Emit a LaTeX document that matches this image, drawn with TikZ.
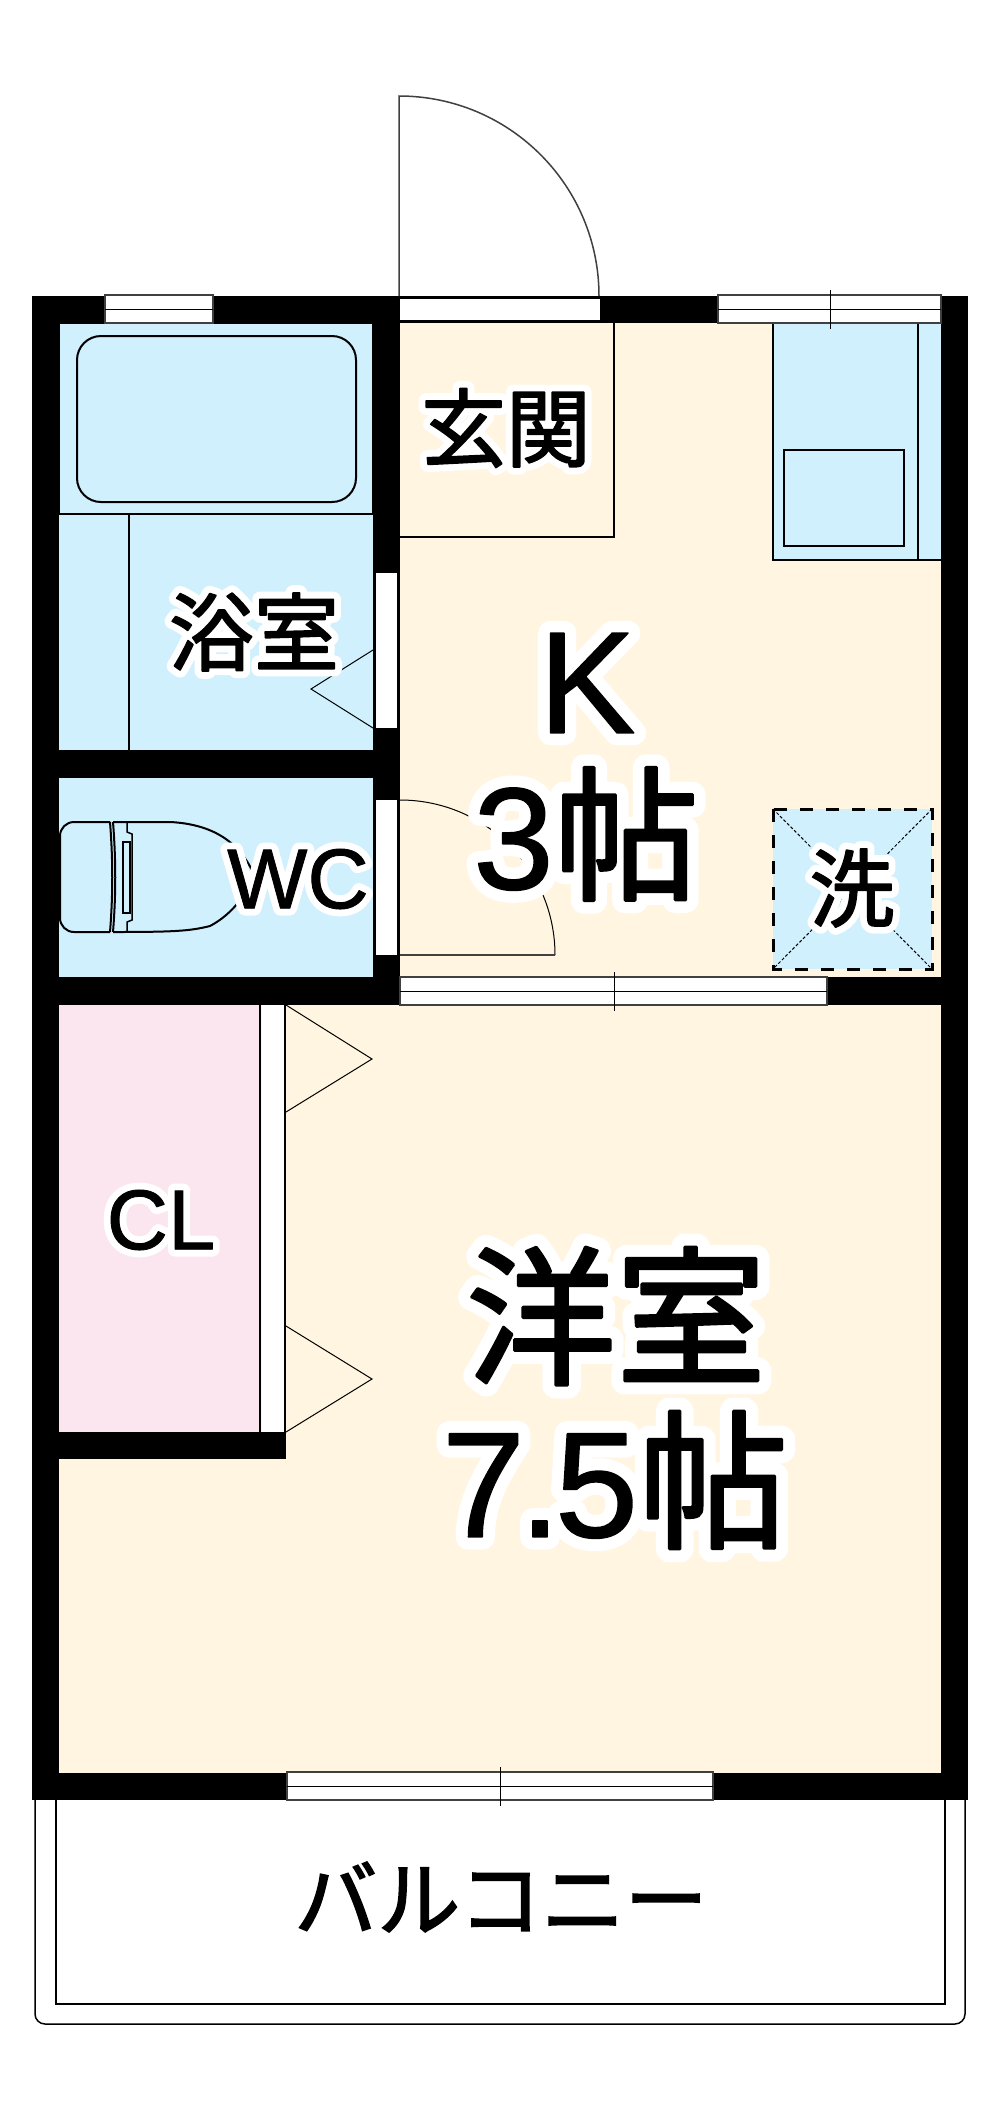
\documentclass[tikz,border=0pt]{standalone}
\usepackage{fontspec}
\setmainfont[FakeBold=1.0]{Liberation Sans}
\newfontfamily\jpfont[FakeBold=2.0]{Noto Sans CJK JP}
\newfontfamily\jphalo[FakeBold=18]{Noto Sans CJK JP}
\newfontfamily\lathalo[FakeBold=17]{Liberation Sans}
% white rim under a label: first the rim, then the label
\newcommand{\halo}[2]{\special{pdf:code 1 j}\rlap{\textcolor{white}{#1}}#2}
\definecolor{FloorBeige}{HTML}{FFF5E0}
\definecolor{WetBlue}{HTML}{D0F0FE}
\definecolor{ClosetPink}{HTML}{FBE6F0}
\definecolor{WinGray}{HTML}{404040}
\tikzset{
  fixture/.style={draw=black,line width=1.5pt},
  thinline/.style={draw=black,line width=1pt},
  winline/.style={draw=WinGray,line width=1.5pt},
  hugetext/.style={inner sep=0pt,font=\fontsize{150}{150}\selectfont},
  bigtext/.style={inner sep=0pt,font=\fontsize{145}{145}\selectfont},
  smalltext/.style={inner sep=0pt,font=\fontsize{85}{85}\selectfont}
}

\begin{document}
\begin{tikzpicture}[x=1pt,y=-1pt]
    \useasboundingbox (0,0) rectangle (1000,2110);

%   balcony
    \draw[fixture,rounded corners=10pt] (35,1795) -- (35,2024) -- (965,2024) -- (965,1795);
    \draw[fixture,line width=2pt] (56,1795) -- (56,2004) -- (945,2004) -- (945,1795);

%   walls and floors
    \fill[black] (32,296) rectangle (968,1800);
    \fill[FloorBeige] (400,323) rectangle (941,977);
    \fill[FloorBeige] (59,1005) rectangle (941,1773);
    \fill[WetBlue] (60,324) rectangle (372,514);
    \fill[WetBlue] (59,514) rectangle (373,750);
    \fill[WetBlue] (59,778) rectangle (373,977);
    \fill[ClosetPink] (59,1005) rectangle (260,1432);
    \fill[black] (59,1432) rectangle (286,1459);
    \fill[white] (262,1005) rectangle (284,1432);
    \draw[fixture,line width=2.5pt] (260,1005) -- (260,1432);
    \draw[fixture,line width=2.5pt] (285,1005) -- (285,1432);

%   door gaps
    \fill[white] (400,299) rectangle (600,320);
    \fill[white] (376,573) rectangle (397,728);
    \fill[white] (376,800) rectangle (397,955);

%   entrance door
    \draw[winline] (399,296) -- (399,96) .. controls (509.5,96) and (599,185.5) .. (599,296);
    \draw[fixture] (400,537) -- (614,537) -- (614,323);

%   sliding doors
    \draw[thinline] (373,650) -- (311,689) -- (373,728);
    \draw[thinline] (286,1005) -- (372,1059) -- (286,1112);
    \draw[thinline] (286,1326) -- (372,1379) -- (286,1432);

%   wc door
    \draw[thinline] (400,800) .. controls (485.6,800) and (555,869.4) .. (555,955);
    \draw[winline] (400,955) -- (555,955);

%   bath
    \draw[fixture,line width=2pt,rounded corners=24pt] (77,336) rectangle (356,502);
    \draw[fixture,line width=2pt] (59,514) -- (373,514);
    \draw[fixture] (129,514) -- (129,750);

%   toilet
    \draw[fixture,line width=2pt,rounded corners=14pt] (110,822) -- (60,822) -- (60,932) -- (110,932);
    \draw[fixture,line width=2pt] (110,822) .. controls (113,860) and (113,895) .. (110,932);
    \draw[fixture,line width=2pt] (113,822) .. controls (116,860) and (116,895) .. (113,932);
    \draw[fixture,line width=2pt] (113,822) -- (170,822) .. controls (210,824) and (240,840) .. (255,877)
        .. controls (240,905) and (225,918) .. (210,926) .. controls (190,931) and (175,932) .. (113,932);
    \draw[fixture] (127,822) -- (127,832) -- (132,834) -- (132,920) -- (127,922) -- (127,932);
    \draw[fixture] (123,842) rectangle (130,913);

%   kitchen
    \fill[WetBlue] (773,323) rectangle (941,560);
    \draw[fixture,line width=2pt] (773,323) -- (773,560) -- (941,560);
    \draw[fixture,line width=2pt] (918,323) -- (918,560);
    \draw[fixture] (784,450) rectangle (904,546);

%   washing machine pan
    \fill[WetBlue] (773,809) rectangle (932,969);
    \draw[thinline,densely dashed] (773,809) -- (932,969);
    \draw[thinline,densely dashed] (932,809) -- (773,969);
    \draw[black,line width=3pt,dash pattern=on 13pt off 13pt] (773,809) rectangle (932,969);

%   windows
    \foreach \xa/\xb/\ya/\xt in {105/213/295/0,718/941/295/830,400/827/977/614,287/713/1772/500} {
        \fill[white] (\xa,\ya) rectangle (\xb,\ya+28);
        \draw[winline] (\xa,\ya) rectangle (\xb,\ya+28);
        \draw[thinline] (\xa,\ya+14) -- (\xb,\ya+14);
        \ifnum\xt>0
            \draw[thinline] (\xt,\ya-5) -- (\xt,\ya+34);
        \fi
    }

%   room names
    \node[smalltext] (genkan) at (506,428) {\halo{\jphalo 玄関}{\jpfont 玄関}};
    \node[bigtext] (kitchen) at (587,683) {\halo{\lathalo K}{K}};
    \node[bigtext] (kitchensize) at (586,834) {\halo{\lathalo 3\jphalo 帖}{3\jpfont 帖}};
    \node[smalltext] (bath) at (254,632) {\halo{\jphalo 浴室}{\jpfont 浴室}};
    \node[smalltext] (wc) at (298,879) {\halo{\lathalo WC}{WC}};
    \node[smalltext] (washer) at (852,888) {\halo{\jphalo 洗}{\jpfont 洗}};
    \node[smalltext] (closet) at (161,1220) {\halo{\lathalo CL}{CL}};
    \node[hugetext] (western) at (616,1316) {\halo{\jphalo 洋室}{\jpfont 洋室}};
    \node[hugetext] (westernsize) at (615,1480) {\halo{\lathalo 7\kern-6pt.\kern-6pt5\jphalo 帖}{7\kern-6pt.\kern-6pt5\jpfont 帖}};
    \node[smalltext,font=\fontsize{83}{83}\selectfont] (balcony) at (501,1897) {\jpfont バルコニー};
\end{tikzpicture}
\end{document}
